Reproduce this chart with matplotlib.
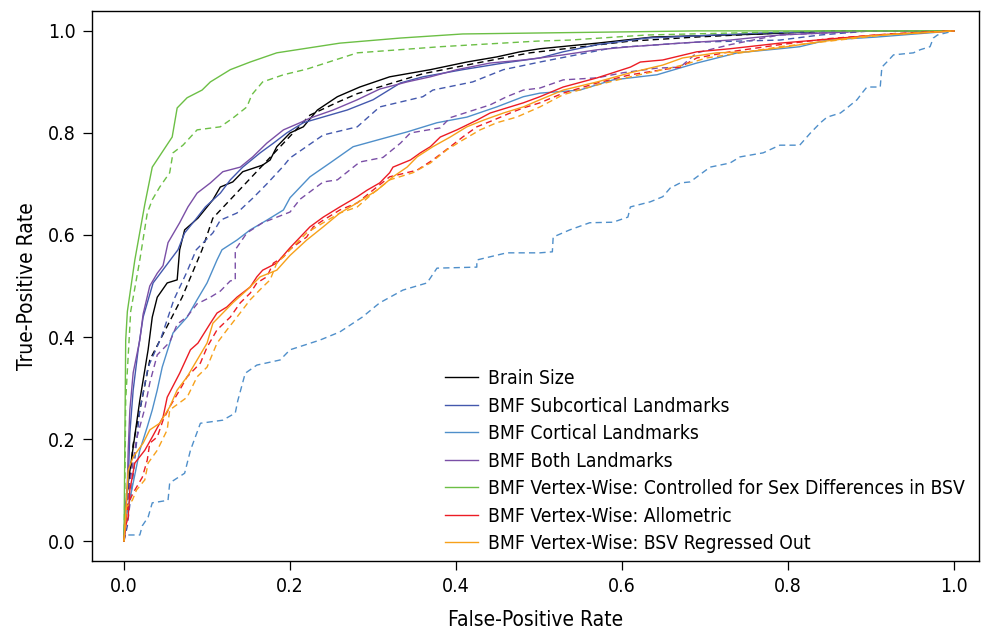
import matplotlib
matplotlib.use("Agg")
import matplotlib.pyplot as plt
from matplotlib import font_manager

# prefer a condensed / narrow sans face if one is installed
cond_name = None
for f in font_manager.fontManager.ttflist:
    nm = f.name
    st = str(f.stretch)
    if ("Narrow" in nm or "Condensed" in nm or st in ("condensed", "semi-condensed")) \
            and f.style == "normal" and f.weight in (400, "normal", "regular"):
        cond_name = nm
        cond_stretch = st
        break
avail = {f.name for f in font_manager.fontManager.ttflist}
fam = [f for f in ["Liberation Sans Narrow", "Liberation Sans", "DejaVu Sans"] if f in avail]
if cond_name:
    fam = [cond_name] + fam
    plt.rcParams["font.stretch"] = cond_stretch if cond_stretch != "normal" else "normal"
plt.rcParams["font.family"] = fam

# ---------------- data ----------------
labels = ["Brain Size", "BMF Subcortical Landmarks", "BMF Cortical Landmarks",
          "BMF Both Landmarks",
          "BMF Vertex-Wise: Controlled for Sex Differences in BSV",
          "BMF Vertex-Wise: Allometric", "BMF Vertex-Wise: BSV Regressed Out"]
colors = ["#000000", "#4358ad", "#4f8fca", "#7a4fa6", "#6cbf45", "#ec1c24", "#f7a11a"]

brain_fpr = [0, 0.001, 0.005, 0.011, 0.019, 0.029, 0.034, 0.04, 0.052, 0.064, 0.067, 0.073, 0.089, 0.107, 0.116, 0.131, 0.143, 0.167, 0.176, 0.184, 0.2, 0.216, 0.233, 0.257, 0.284, 0.32, 0.369, 0.413, 0.449, 0.477, 0.501, 0.57, 0.637, 0.77, 0.85, 1.0]
brain_tpr = [0, 0.05, 0.114, 0.184, 0.276, 0.375, 0.439, 0.478, 0.506, 0.512, 0.571, 0.61, 0.633, 0.669, 0.694, 0.704, 0.724, 0.737, 0.747, 0.773, 0.8, 0.812, 0.845, 0.871, 0.89, 0.91, 0.924, 0.939, 0.949, 0.959, 0.965, 0.976, 0.988, 0.994, 1.0, 1.0]
brain2_fpr = [0, 0.003, 0.011, 0.031, 0.07, 0.094, 0.107, 0.224, 0.257, 0.281, 0.36, 0.425, 0.489, 0.61, 0.69, 0.79, 0.87, 1.0]
brain2_tpr = [0, 0.06, 0.19, 0.355, 0.478, 0.571, 0.633, 0.835, 0.86, 0.877, 0.916, 0.937, 0.957, 0.98, 0.988, 0.996, 1.0, 1.0]

subc_fpr = [0, 0.002, 0.005, 0.007, 0.011, 0.017, 0.023, 0.035, 0.065, 0.073, 0.086, 0.098, 0.116, 0.128, 0.143, 0.164, 0.18, 0.196, 0.216, 0.269, 0.3, 0.333, 0.36, 0.408, 0.457, 0.501, 0.529, 0.57, 0.63, 0.77, 0.88, 1.0]
subc_tpr = [0, 0.06, 0.114, 0.212, 0.296, 0.375, 0.439, 0.506, 0.571, 0.604, 0.63, 0.655, 0.682, 0.708, 0.733, 0.761, 0.78, 0.8, 0.82, 0.845, 0.865, 0.898, 0.91, 0.924, 0.937, 0.947, 0.959, 0.973, 0.986, 0.996, 1.0, 1.0]
subc2_fpr = [0, 0.004, 0.01, 0.015, 0.019, 0.029, 0.045, 0.06, 0.075, 0.087, 0.107, 0.116, 0.136, 0.155, 0.172, 0.192, 0.2, 0.24, 0.281, 0.308, 0.36, 0.372, 0.42, 0.457, 0.501, 0.589, 0.69, 0.79, 0.839, 0.9, 1.0]
subc2_tpr = [0, 0.03, 0.114, 0.192, 0.257, 0.341, 0.4, 0.473, 0.525, 0.571, 0.604, 0.629, 0.643, 0.672, 0.7, 0.735, 0.751, 0.796, 0.812, 0.851, 0.871, 0.884, 0.9, 0.924, 0.939, 0.967, 0.978, 0.982, 0.992, 1.0, 1.0]

cort_fpr = [0, 0.003, 0.011, 0.019, 0.028, 0.034, 0.04, 0.046, 0.059, 0.076, 0.088, 0.1, 0.112, 0.118, 0.136, 0.152, 0.172, 0.192, 0.2, 0.224, 0.248, 0.276, 0.305, 0.341, 0.377, 0.413, 0.449, 0.481, 0.501, 0.549, 0.589, 0.642, 0.69, 0.739, 0.79, 0.814, 0.847, 0.907, 1.0]
cort_tpr = [0, 0.05, 0.114, 0.178, 0.224, 0.257, 0.296, 0.341, 0.408, 0.439, 0.473, 0.506, 0.551, 0.571, 0.59, 0.61, 0.629, 0.649, 0.673, 0.714, 0.741, 0.773, 0.786, 0.802, 0.82, 0.831, 0.851, 0.871, 0.878, 0.884, 0.904, 0.914, 0.937, 0.957, 0.965, 0.969, 0.982, 0.988, 1.0]
cort2_fpr = [0, 0, 0.019, 0.022, 0.029, 0.034, 0.053, 0.055, 0.073, 0.08, 0.092, 0.119, 0.134, 0.137, 0.146, 0.16, 0.188, 0.2, 0.236, 0.26, 0.287, 0.308, 0.336, 0.365, 0.377, 0.425, 0.425, 0.461, 0.501, 0.516, 0.517, 0.537, 0.561, 0.589, 0.607, 0.61, 0.634, 0.649, 0.658, 0.67, 0.682, 0.706, 0.73, 0.742, 0.77, 0.79, 0.814, 0.827, 0.839, 0.847, 0.863, 0.871, 0.883, 0.89, 0.895, 0.911, 0.913, 0.919, 0.927, 0.951, 0.959, 0.971, 0.975, 0.98, 1.0]
cort2_tpr = [0, 0.012, 0.012, 0.03, 0.047, 0.075, 0.08, 0.114, 0.133, 0.178, 0.231, 0.237, 0.251, 0.275, 0.329, 0.345, 0.355, 0.375, 0.394, 0.41, 0.439, 0.467, 0.492, 0.506, 0.535, 0.537, 0.551, 0.565, 0.565, 0.567, 0.596, 0.61, 0.624, 0.625, 0.635, 0.655, 0.665, 0.675, 0.692, 0.702, 0.704, 0.733, 0.741, 0.753, 0.761, 0.776, 0.776, 0.8, 0.82, 0.831, 0.839, 0.849, 0.865, 0.88, 0.89, 0.89, 0.929, 0.939, 0.953, 0.957, 0.963, 0.969, 0.986, 0.992, 1.0]

both_fpr = [0, 0.002, 0.004, 0.005, 0.007, 0.011, 0.019, 0.023, 0.031, 0.04, 0.047, 0.053, 0.067, 0.077, 0.088, 0.104, 0.119, 0.14, 0.155, 0.172, 0.192, 0.212, 0.224, 0.252, 0.281, 0.308, 0.341, 0.369, 0.401, 0.441, 0.481, 0.501, 0.529, 0.57, 0.61, 0.67, 0.73, 0.79, 0.9, 1.0]
both_tpr = [0, 0.06, 0.114, 0.178, 0.257, 0.33, 0.394, 0.445, 0.5, 0.525, 0.54, 0.585, 0.624, 0.655, 0.682, 0.702, 0.724, 0.733, 0.753, 0.78, 0.806, 0.82, 0.829, 0.845, 0.865, 0.886, 0.9, 0.91, 0.924, 0.937, 0.943, 0.947, 0.953, 0.963, 0.969, 0.976, 0.982, 0.992, 1.0, 1.0]
both2_fpr = [0, 0.003, 0.007, 0.015, 0.025, 0.031, 0.04, 0.055, 0.064, 0.076, 0.088, 0.104, 0.116, 0.128, 0.134, 0.134, 0.148, 0.167, 0.2, 0.212, 0.24, 0.257, 0.284, 0.312, 0.333, 0.345, 0.381, 0.393, 0.441, 0.461, 0.481, 0.501, 0.529, 0.57, 0.601, 0.642, 0.67, 0.69, 0.73, 0.77, 0.79, 0.9, 1.0]
both2_tpr = [0, 0.06, 0.114, 0.2, 0.26, 0.31, 0.365, 0.39, 0.425, 0.44, 0.465, 0.478, 0.49, 0.51, 0.512, 0.571, 0.604, 0.624, 0.645, 0.67, 0.704, 0.708, 0.743, 0.752, 0.78, 0.8, 0.81, 0.83, 0.855, 0.871, 0.884, 0.888, 0.904, 0.908, 0.918, 0.927, 0.929, 0.957, 0.973, 0.986, 0.992, 1.0, 1.0]

vsex_fpr = [0, 0.001, 0.002, 0.004, 0.013, 0.025, 0.034, 0.058, 0.064, 0.076, 0.094, 0.104, 0.128, 0.152, 0.184, 0.216, 0.26, 0.333, 0.408, 0.6, 0.69, 1.0]
vsex_tpr = [0, 0.2, 0.394, 0.45, 0.551, 0.66, 0.733, 0.792, 0.849, 0.869, 0.884, 0.9, 0.924, 0.939, 0.957, 0.965, 0.976, 0.986, 0.994, 0.998, 1.0, 1.0]
vsex2_fpr = [0, 0.001, 0.002, 0.008, 0.019, 0.028, 0.034, 0.043, 0.055, 0.059, 0.071, 0.088, 0.116, 0.131, 0.148, 0.154, 0.167, 0.192, 0.22, 0.281, 0.381, 0.498, 0.537, 0.63, 0.79, 0.85, 1.0]
vsex2_tpr = [0, 0.1, 0.276, 0.45, 0.551, 0.643, 0.669, 0.694, 0.722, 0.761, 0.776, 0.806, 0.812, 0.829, 0.851, 0.875, 0.9, 0.914, 0.925, 0.957, 0.969, 0.98, 0.982, 0.992, 0.998, 1.0, 1.0]

allo_fpr = [0, 0.002, 0.005, 0.007, 0.013, 0.025, 0.034, 0.047, 0.052, 0.067, 0.08, 0.089, 0.104, 0.112, 0.124, 0.136, 0.152, 0.16, 0.167, 0.184, 0.2, 0.224, 0.24, 0.26, 0.281, 0.293, 0.308, 0.32, 0.324, 0.345, 0.357, 0.369, 0.381, 0.401, 0.425, 0.441, 0.465, 0.481, 0.501, 0.529, 0.57, 0.61, 0.622, 0.649, 0.69, 0.73, 0.79, 0.835, 0.907, 1.0]
allo_tpr = [0, 0.03, 0.047, 0.1, 0.153, 0.178, 0.204, 0.243, 0.282, 0.329, 0.375, 0.388, 0.427, 0.447, 0.459, 0.478, 0.498, 0.518, 0.531, 0.545, 0.575, 0.616, 0.635, 0.655, 0.675, 0.688, 0.702, 0.722, 0.733, 0.747, 0.761, 0.773, 0.792, 0.806, 0.825, 0.839, 0.851, 0.859, 0.871, 0.89, 0.908, 0.929, 0.939, 0.943, 0.959, 0.965, 0.976, 0.982, 0.992, 1.0]
allo2_fpr = [0, 0.002, 0.005, 0.013, 0.022, 0.028, 0.031, 0.04, 0.047, 0.055, 0.067, 0.076, 0.092, 0.1, 0.112, 0.128, 0.14, 0.152, 0.16, 0.172, 0.18, 0.192, 0.2, 0.22, 0.228, 0.24, 0.26, 0.281, 0.3, 0.32, 0.353, 0.372, 0.393, 0.408, 0.425, 0.445, 0.465, 0.481, 0.501, 0.529, 0.57, 0.61, 0.649, 0.67, 0.69, 0.73, 0.79, 0.85, 0.93, 1.0]
allo2_tpr = [0, 0.04, 0.075, 0.1, 0.125, 0.159, 0.192, 0.204, 0.237, 0.263, 0.296, 0.322, 0.349, 0.38, 0.414, 0.439, 0.467, 0.486, 0.506, 0.518, 0.545, 0.557, 0.572, 0.596, 0.616, 0.629, 0.649, 0.663, 0.688, 0.714, 0.727, 0.747, 0.773, 0.792, 0.812, 0.825, 0.839, 0.849, 0.859, 0.878, 0.898, 0.914, 0.924, 0.929, 0.947, 0.959, 0.973, 0.985, 0.995, 1.0]

bsvr_fpr = [0, 0.003, 0.005, 0.011, 0.023, 0.031, 0.043, 0.055, 0.064, 0.076, 0.088, 0.1, 0.107, 0.119, 0.131, 0.148, 0.164, 0.184, 0.2, 0.22, 0.24, 0.26, 0.281, 0.305, 0.324, 0.341, 0.353, 0.372, 0.393, 0.413, 0.433, 0.457, 0.481, 0.501, 0.529, 0.57, 0.61, 0.649, 0.673, 0.714, 0.751, 0.79, 0.835, 0.895, 1.0]
bsvr_tpr = [0, 0.08, 0.139, 0.165, 0.192, 0.218, 0.231, 0.263, 0.296, 0.322, 0.355, 0.388, 0.427, 0.447, 0.467, 0.492, 0.518, 0.531, 0.56, 0.59, 0.616, 0.643, 0.663, 0.688, 0.714, 0.733, 0.753, 0.773, 0.792, 0.812, 0.825, 0.839, 0.851, 0.865, 0.884, 0.9, 0.918, 0.933, 0.947, 0.957, 0.959, 0.967, 0.978, 0.99, 1.0]
bsvr2_fpr = [0, 0.003, 0.01, 0.015, 0.025, 0.029, 0.04, 0.052, 0.055, 0.076, 0.088, 0.1, 0.112, 0.124, 0.136, 0.152, 0.167, 0.176, 0.184, 0.192, 0.2, 0.22, 0.24, 0.26, 0.281, 0.3, 0.32, 0.348, 0.369, 0.389, 0.408, 0.429, 0.449, 0.473, 0.501, 0.529, 0.57, 0.61, 0.649, 0.673, 0.702, 0.751, 0.79, 0.85, 0.92, 1.0]
bsvr2_tpr = [0, 0.067, 0.08, 0.1, 0.12, 0.153, 0.178, 0.218, 0.257, 0.282, 0.322, 0.341, 0.388, 0.414, 0.439, 0.473, 0.498, 0.512, 0.545, 0.557, 0.571, 0.604, 0.624, 0.643, 0.655, 0.682, 0.708, 0.722, 0.741, 0.767, 0.786, 0.806, 0.82, 0.831, 0.851, 0.875, 0.894, 0.91, 0.924, 0.933, 0.947, 0.959, 0.969, 0.98, 0.993, 1.0]

solid_series = [(brain_fpr, brain_tpr), (subc_fpr, subc_tpr), (cort_fpr, cort_tpr),
                (both_fpr, both_tpr), (vsex_fpr, vsex_tpr), (allo_fpr, allo_tpr),
                (bsvr_fpr, bsvr_tpr)]
dashed_series = [(brain2_fpr, brain2_tpr), (subc2_fpr, subc2_tpr), (cort2_fpr, cort2_tpr),
                 (both2_fpr, both2_tpr), (vsex2_fpr, vsex2_tpr), (allo2_fpr, allo2_tpr),
                 (bsvr2_fpr, bsvr2_tpr)]
ticks = [0.0, 0.2, 0.4, 0.6, 0.8, 1.0]
tick_labels = ["0.0", "0.2", "0.4", "0.6", "0.8", "1.0"]

# ---------------- plot ----------------
fig = plt.figure(figsize=(9.81, 6.34), dpi=100)
ax = fig.add_axes([92 / 981, 73 / 634, 887 / 981, 550 / 634])

handles = []
for (fx, ty), (dx, dy), c, lab in zip(solid_series, dashed_series, colors, labels):
    h, = ax.plot(fx, ty, color=c, lw=1.0, label=lab)
    ax.plot(dx, dy, color=c, lw=1.0, dashes=(4.5, 3))
    handles.append(h)

ax.set_xlim(-0.0386, 1.030)
ax.set_ylim(-0.039, 1.039)
ax.set_xticks(ticks)
ax.set_xticklabels(tick_labels)
ax.set_yticks(ticks)
ax.set_yticklabels(tick_labels)
ax.tick_params(direction="out", length=6.5, width=0.9, labelsize=14, pad=5)
for s in ax.spines.values():
    s.set_linewidth(1.0)
ax.set_xlabel("False-Positive Rate", fontsize=15, labelpad=10)
ax.set_ylabel("True-Positive Rate", fontsize=15, labelpad=8)


def make_legend(fs):
    px = fs * 100 / 72.0
    return ax.legend(handles=handles, loc="upper left",
                     bbox_to_anchor=(353 / 887, 1 - (369 - 11) / 550),
                     frameon=False, fontsize=fs, handlelength=33 / px,
                     handletextpad=10 / px, borderpad=0, borderaxespad=0,
                     labelspacing=(27.5 - px * 1.15 + 3.2) / px)


# size the legend so its longest label spans the same width as in the reference
fs = 14.5
leg = make_legend(fs)
fig.canvas.draw()
r = fig.canvas.get_renderer()
w = max(t.get_window_extent(r).width for t in leg.get_texts())
fs = min(fs, fs * 477.0 / w)
leg.remove()
leg = make_legend(fs)

# axis label widths like the reference
fig.canvas.draw()
wx = ax.xaxis.label.get_window_extent(r).width
if wx > 190:
    ax.xaxis.label.set_fontsize(15 * 185.0 / wx)
    ax.yaxis.label.set_fontsize(15 * 185.0 / wx)

fig.savefig("out.png", dpi=100)
